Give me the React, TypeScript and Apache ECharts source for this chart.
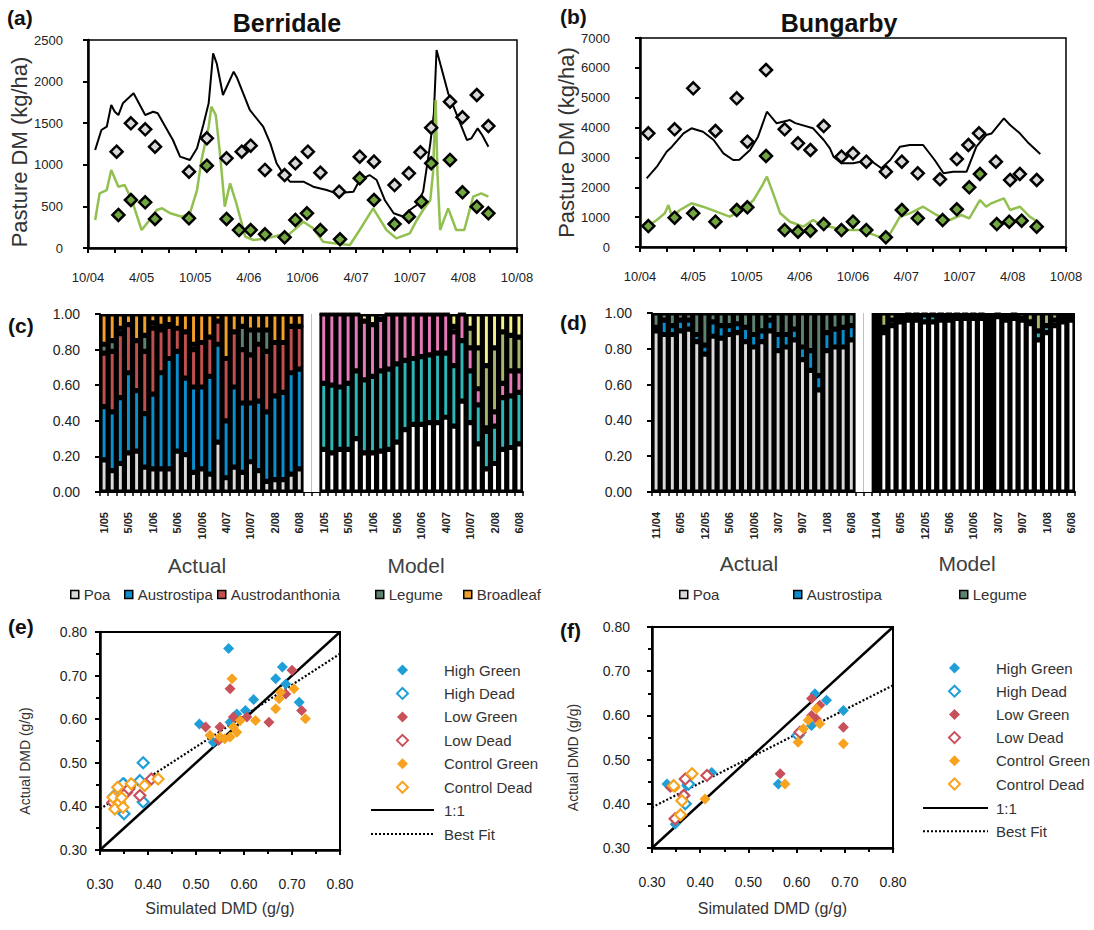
import React, { useEffect, useRef } from 'react';
import * as echarts from 'echarts';

const FONT = '"Liberation Sans", Arial, Helvetica, sans-serif';
const TXT = '#222';

// ---------------- (a) / (b) pasture DM time series (x = months since Oct 2004) ----------------
const timeTickLabels = ['10/04', '4/05', '10/05', '4/06', '10/06', '4/07', '10/07', '4/08', '10/08'];

const berrModelTotal: [number, number][] = [
  [0.8, 1178], [1.5, 1418], [2.1, 1458], [2.6, 1719], [3.0, 1638], [3.4, 1598], [3.9, 1739], [5.1, 1859],
  [6.4, 1598], [7.3, 1638], [7.8, 1620], [9.5, 1298], [10.3, 1098], [11.4, 1058], [12.2, 1198], [12.9, 1478],
  [13.5, 1739], [14.0, 2340], [14.4, 2220], [15.1, 1839], [16.3, 2119], [16.7, 2040], [18.1, 1659], [19.6, 1458],
  [20.4, 1258], [21.1, 1018], [21.8, 898], [22.6, 797], [24.1, 797], [25.2, 737], [26.7, 697], [27.8, 657],
  [29.7, 677], [30.4, 817], [31.5, 877], [32.3, 817], [33.2, 577], [34.2, 417], [35.3, 376], [36.0, 457],
  [36.8, 517], [37.5, 677], [38.3, 1258], [38.7, 1619], [39.0, 2380], [39.4, 2220], [40.3, 1859], [41.2, 1619],
  [42.4, 1298], [42.9, 1318], [43.6, 1438], [44.1, 1358], [44.8, 1218],
];
const berrModelGreen: [number, number][] = [
  [0.8, 337], [1.3, 657], [2.1, 697], [2.6, 938], [3.4, 737], [4.1, 757], [4.9, 577], [6.0, 216], [6.9, 337],
  [7.7, 457], [8.3, 477], [9.2, 417], [10.5, 376], [11.4, 417], [12.2, 697], [12.7, 1058], [13.5, 1458],
  [13.8, 1699], [14.3, 1598], [14.8, 1098], [15.3, 497], [15.9, 777], [16.6, 537], [17.6, 136], [18.5, 96],
  [20.0, 116], [21.5, 156], [22.2, 136], [24.1, 316], [25.2, 237], [26.3, 76], [27.3, 60], [29.3, 36],
  [30.4, 216], [31.9, 477], [33.4, 216], [34.5, 116], [36.0, 176], [36.8, 337], [37.5, 457], [38.3, 577],
  [38.6, 900], [38.9, 1779], [39.1, 898], [39.4, 216], [40.3, 477], [41.2, 216], [42.1, 216], [43.1, 617],
  [44.0, 657], [44.8, 617],
];
const berrActualTotal: [number, number][] = [
  [3.2, 1158], [4.8, 1499], [6.4, 1427], [7.5, 1218], [11.3, 917], [13.3, 1318], [15.5, 1078], [17.2, 1158],
  [18.2, 1230], [19.8, 938], [22.0, 877], [23.2, 1018], [24.6, 1158], [26.0, 905], [28.1, 677], [30.4, 1098],
  [32.0, 1038], [34.3, 757], [35.9, 898], [37.2, 1150], [38.4, 1446], [40.5, 1758], [41.9, 1571], [43.5, 1839],
  [44.8, 1466],
];
const berrActualGreen: [number, number][] = [
  [3.4, 397], [4.8, 577], [6.4, 549], [7.5, 349], [11.3, 357], [13.3, 989], [15.5, 349], [16.9, 216],
  [18.2, 216], [19.8, 165], [22.0, 128], [23.2, 337], [24.5, 417], [26.0, 216], [28.2, 105], [30.4, 838],
  [32.0, 577], [34.3, 288], [35.9, 376], [37.3, 557], [38.4, 1018], [40.5, 1058], [41.9, 669], [43.5, 496],
  [44.8, 417],
];

const bungModelTotal: [number, number][] = [
  [0.75, 2300], [1.9, 2690], [3.0, 3192], [3.6, 3359], [4.9, 3808], [5.8, 3975], [7.1, 3861], [8.3, 3584],
  [9.4, 3138], [10.5, 2914], [11.2, 2920], [12.4, 3249], [13.3, 3694], [14.3, 4531], [15.4, 4143], [16.9, 4253],
  [17.5, 4150], [19.5, 3975], [20.7, 3584], [21.4, 3305], [21.8, 3024], [22.7, 2803], [24.0, 2803], [25.9, 2914],
  [27.2, 2636], [28.2, 2914], [29.3, 3359], [30.4, 3416], [31.9, 3416], [33.2, 2914], [34.2, 2468], [35.3, 2522],
  [36.8, 2522], [37.9, 3359], [39.0, 3751], [39.6, 3800], [41.0, 4310], [41.7, 4086], [42.8, 3808], [43.8, 3473],
  [45.1, 3114],
];
const bungModelGreen: [number, number][] = [
  [0.75, 680], [1.9, 904], [2.8, 1128], [3.2, 1406], [3.6, 1016], [4.5, 1239], [5.8, 1463], [7.1, 1350],
  [8.6, 1183], [10.1, 1016], [11.6, 1239], [12.8, 1574], [13.7, 2019], [14.3, 2355], [15.0, 1798], [15.8, 1128],
  [16.9, 847], [18.4, 680], [19.5, 904], [20.7, 680], [21.4, 680], [22.9, 569], [24.8, 569], [25.9, 458],
  [27.4, 290], [28.2, 458], [29.3, 1016], [30.4, 1128], [31.9, 1350], [33.4, 1072], [34.9, 904], [36.2, 1072],
  [37.1, 960], [38.3, 1574], [39.0, 1350], [39.5, 1450], [41.0, 1630], [41.7, 1239], [42.8, 1350], [43.9, 1016],
  [44.8, 847],
];
const bungActualTotal: [number, number][] = [
  [0.94, 3808], [3.9, 3942], [6.0, 5315], [8.5, 3885], [10.9, 4980], [12.1, 3527], [14.2, 5928], [16.3, 3942],
  [17.8, 3473], [19.2, 3249], [20.7, 4052], [22.7, 3024], [24.0, 3137], [25.5, 2857], [27.7, 2522], [29.5, 2857],
  [31.3, 2468], [33.8, 2267], [35.7, 2947], [37.0, 3416], [38.2, 3808], [40.1, 2857], [41.7, 2244], [42.8, 2445],
  [44.7, 2244],
];
const bungActualGreen: [number, number][] = [
  [0.94, 703], [3.9, 982], [6.0, 1128], [8.5, 847], [10.9, 1239], [12.1, 1329], [14.2, 3048], [16.3, 569],
  [17.8, 512], [19.2, 546], [20.7, 770], [22.7, 569], [24.0, 847], [25.5, 569], [27.7, 324], [29.5, 1239],
  [31.3, 961], [34.1, 904], [35.7, 1262], [37.1, 1999], [38.3, 2445], [40.2, 770], [41.6, 847], [43.0, 881],
  [44.7, 680],
];

// ---------------- (c) Berridale composition ----------------
const berrTickLabels = ['1/05', '5/05', '1/06', '5/06', '10/06', '4/07', '10/07', '2/08', '6/08'];
const cActPoa = [.18, .12, .16, .22, .23, .14, .13, .13, .13, .23, .21, .11, .13, .10, .28, .08, .14, .11, .17, .12, .06, .07, .07, .10, .13];
const cActStipa = [.30, .33, .37, .45, .34, .30, .42, .54, .62, .56, .43, .48, .46, .55, .55, .32, .45, .39, .33, .39, .39, .47, .49, .57, .56];
const cActDanth = [.30, .34, .36, .27, .28, .35, .37, .24, .18, .13, .26, .21, .25, .22, .13, .35, .31, .30, .27, .32, .34, .30, .28, .26, .24];
const cActLegume = [.05, .06, .03, 0, 0, .09, .03, .02, .01, 0, 0, .03, 0, 0, 0, 0, 0, .13, .14, .08, .12, 0, 0, 0, 0];
const cActBroad = [.17, .15, .08, .06, .15, .12, .05, .07, .06, .08, .10, .17, .16, .13, .04, .25, .10, .07, .09, .09, .09, .16, .16, .07, .07];
const cModPoa = [.24, .22, .24, .24, .30, .22, .22, .23, .24, .28, .35, .38, .38, .39, .39, .42, .37, .51, .39, .27, .13, .16, .24, .25, .27];
const cModStipa = [.37, .38, .35, .37, .38, .41, .43, .45, .45, .44, .39, .37, .38, .38, .39, .36, .34, .34, .29, .22, .21, .21, .29, .29, .29];
const cModDanth = [.39, .40, .41, .39, .32, .33, .29, .29, .31, .28, .26, .25, .24, .23, .22, .22, .19, .15, .13, .09, .02, .08, .08, .14, .12];
const cModLegume = [0, 0, 0, 0, 0, 0, 0, 0, 0, 0, 0, 0, 0, 0, 0, 0, .03, 0, .11, .23, .35, .36, .29, .20, .19];
const cModBroad = [0, 0, 0, 0, 0, .04, .06, .03, 0, 0, 0, 0, 0, 0, 0, 0, .07, 0, .08, .19, .29, .19, .10, .12, .13];

// ---------------- (d) Bungarby composition ----------------
const bungTickLabels = ['11/04', '6/05', '12/05', '5/06', '10/06', '3/07', '9/07', '1/08', '6/08'];
const dActPoa = [.90, .88, .88, .90, .91, .84, .77, .87, .86, .88, .89, .84, .81, .84, .90, .79, .81, .85, .74, .68, .57, .79, .81, .81, .85];
const dActStipa = [.02, .08, .05, .06, .05, .04, .05, .08, .07, .05, .05, .08, .07, .06, .06, .09, .07, .06, .07, .11, .08, .10, .10, .11, .08];
const dActLegume = [.08, .04, .07, .04, .04, .12, .18, .05, .07, .07, .06, .08, .12, .10, .04, .12, .12, .09, .19, .21, .35, .11, .09, .08, .07];
const dModPoa = [null, .89, .93, .95, .96, .96, .95, .95, .96, .96, .97, .97, .97, .97, null, .98, .96, .97, .96, .94, .85, .89, .93, .95, .96];
const dModStipa = [null, .03, .03, .03, .03, .03, .04, .04, .03, .03, .02, .02, .02, .02, null, .01, .02, .02, .01, .01, .05, .04, .03, .03, .02];
const dModLegume = [null, .08, .04, .02, .01, .01, .01, .01, .01, .01, .01, .01, .01, .01, null, .01, .02, .01, .03, .05, .10, .07, .04, .02, .02];

// ---------------- (e) / (f) DMD scatter ----------------
const eHighGreen = [[.568, .762], [.666, .693], [.680, .720], [.687, .681], [.715, .639], [.620, .645], [.603, .620], [.585, .612], [.507, .589], [.571, .593], [.536, .547], [.35, .455]];
const eHighDead = [[.39, .50], [.383, .459], [.39, .41], [.348, .452], [.35, .383], [.33, .425]];
const eLowGreen = [[.571, .670], [.70, .712], [.72, .62], [.652, .593], [.52, .582], [.55, .582], [.606, .605], [.578, .605], [.547, .551], [.687, .658]];
const eLowDead = [[.383, .425], [.407, .463], [.355, .432], [.327, .409], [.36, .44]];
const eControlGreen = [[.575, .693], [.676, .662], [.673, .647], [.666, .624], [.704, .67], [.728, .601], [.624, .597], [.592, .597], [.578, .582], [.571, .559], [.550, .559], [.529, .563], [.585, .57], [.56, .555]];
const eControlDead = [[.421, .463], [.393, .448], [.365, .452], [.337, .444], [.327, .421], [.341, .409], [.331, .394], [.348, .398], [.345, .42]];
const eBestFit = [[0.3, 0.394], [0.8, 0.75]];

const fHighGreen = [[.638, .649], [.662, .634], [.697, .611], [.631, .577], [.562, .445], [.331, .445], [.348, .354], [.372, .441], [.424, .471]];
const fHighDead = [[.376, .445], [.369, .40], [.603, .555]];
const fLowGreen = [[.631, .638], [.648, .623], [.631, .60], [.641, .592], [.697, .573], [.566, .468], [.338, .437]];
const fLowDead = [[.369, .456], [.414, .464], [.348, .366], [.366, .419], [.607, .562]];
const fControlGreen = [[.641, .615], [.624, .589], [.614, .570], [.648, .581], [.603, .539], [.697, .536], [.576, .445], [.410, .411], [.348, .437]];
const fControlDead = [[.383, .468], [.362, .407], [.359, .375], [.345, .441]];
const fBestFit = [[0.3, 0.392], [0.8, 0.668]];
const oneToOne = [[0.3, 0.3], [0.8, 0.8]];

// ---------------- helpers ----------------
const N_ACT = 25;
const N_GAP = 2;
const N_CAT = 52;
const catKeys = Array.from({ length: N_CAT }, (_, i) => 'k' + i);
const catLabels = (ticks: string[]) =>
  catKeys.map((_, i) => {
    if (i < N_ACT && i % 3 === 0) return ticks[i / 3];
    const j = i - N_ACT - N_GAP;
    if (j >= 0 && j % 3 === 0) return ticks[j / 3];
    return '';
  });
const actFull = (a: (number | null)[]) => [...a, ...Array(N_CAT - a.length).fill(null)];
const modFull = (a: (number | null)[]) => [...Array(N_ACT + N_GAP).fill(null), ...a];
const gapFull = catKeys.map((_, i) => (i >= N_ACT && i < N_ACT + N_GAP ? 1 : null));

const axisLineBlk = (w = 2) => ({ show: true, lineStyle: { color: '#000', width: w } });
const lbl = (extra: any = {}) => ({ color: TXT, fontFamily: FONT, fontSize: 13, ...extra });

function timeX(gridIndex: number) {
  return {
    type: 'value', gridIndex, min: 0, max: 48, interval: 3,
    axisLine: axisLineBlk(2.5),
    axisTick: { show: true, length: 5, lineStyle: { color: '#000', width: 2 } },
    axisLabel: lbl({ margin: 23, formatter: (v: number) => (v % 6 === 0 ? timeTickLabels[v / 6] : '') }),
    splitLine: { show: false },
  };
}
function dmY(gridIndex: number, max: number, interval: number, margin: number, shift: number) {
  return {
    type: 'value', gridIndex, min: 0, max, interval,
    name: 'Pasture DM (kg/ha)', nameLocation: 'middle', nameGap: 57, nameRotate: 90,
    nameTextStyle: { fontSize: 22, color: '#333', fontFamily: FONT, padding: [0, shift, 0, 0] },
    axisLine: axisLineBlk(2.5),
    axisTick: { show: true, length: 5, lineStyle: { color: '#000', width: 2 } },
    axisLabel: lbl({ margin, formatter: (v: number) => String(v) }),
    splitLine: { show: false },
  };
}
function catX(gridIndex: number, labels: string[]) {
  return {
    type: 'category', gridIndex, data: catKeys,
    axisLine: axisLineBlk(2),
    axisTick: { show: true, interval: 0, length: 4, lineStyle: { color: '#000', width: 1.5 } },
    axisLabel: { interval: 0, rotate: 90, margin: 20, fontSize: 11, fontWeight: 'bold', color: TXT, fontFamily: FONT,
      formatter: (_v: string, idx: number) => labels[idx] },
    splitLine: { show: false },
  };
}
function fracY(gridIndex: number) {
  return {
    type: 'value', gridIndex, min: 0, max: 1, interval: 0.2,
    axisLine: axisLineBlk(2),
    axisTick: { show: true, length: 5, lineStyle: { color: '#000', width: 2 } },
    axisLabel: lbl({ margin: 20, fontSize: 14, formatter: (v: number) => v.toFixed(2) }),
    splitLine: { show: false },
  };
}
function dmdAxis(gridIndex: number, isX: boolean, nameGap: number, margin: number) {
  return {
    type: 'value', gridIndex, min: 0.3, max: 0.8, interval: 0.1,
    name: isX ? 'Simulated DMD (g/g)' : 'Actual DMD (g/g)', nameLocation: 'middle', nameGap,
    nameRotate: isX ? 0 : 90,
    nameTextStyle: isX
      ? { fontSize: 16, color: '#333', fontFamily: FONT }
      : { fontSize: 14, color: '#333', fontFamily: FONT, padding: [0, 40, 0, 0] },
    axisLine: axisLineBlk(2.5),
    axisTick: { show: true, length: 5, lineStyle: { color: '#000', width: 2 } },
    minorTick: { show: true, splitNumber: 2, length: 4, lineStyle: { color: '#000', width: 2 } },
    axisLabel: lbl({ margin, fontSize: 14, formatter: (v: number) => v.toFixed(2) }),
    splitLine: { show: false },
  };
}

const C_POA = '#d9d9d9', C_STIPA = '#0a8fcc', C_DANTH = '#c0504d', C_LEG = '#5f8270', C_BROAD = '#f2a02a';
const M_POA = '#ffffff', M_STIPA = '#2db6b6', M_DANTH = '#e67ab8', M_LEG = '#a8b46c', M_BROAD = '#f5f08c';
const BLUE = '#1f9fd8', RED = '#c8505a', ORANGE = '#f8a31f';

function stackBar(name: string, grid: number, stack: string, data: any[], color: string) {
  return {
    type: 'bar', name, xAxisIndex: grid, yAxisIndex: grid, stack, data, barCategoryGap: '0%',
    itemStyle: { color, borderColor: '#000', borderWidth: 2.6 }, silent: true,
  };
}
function gapBar(grid: number, stack: string) {
  return {
    type: 'bar', name: 'gap' + grid, xAxisIndex: grid, yAxisIndex: grid, stack, data: gapFull, barCategoryGap: '0%',
    itemStyle: { color: '#fff', borderWidth: 0 }, silent: true,
  };
}
function tsLine(name: string, grid: number, data: any, color: string, width: number) {
  return { type: 'line', name, xAxisIndex: grid, yAxisIndex: grid, data, symbol: 'none', lineStyle: { color, width }, z: 2 };
}
function tsPts(name: string, grid: number, data: any, color: string) {
  return {
    type: 'scatter', name, xAxisIndex: grid, yAxisIndex: grid, data, symbol: 'diamond', symbolSize: 12,
    itemStyle: { color, borderColor: '#000', borderWidth: 2.5, opacity: 1 }, z: 5,
  };
}
function pts(name: string, grid: number, data: any, color: string, hollow: boolean) {
  return {
    type: 'scatter', name, xAxisIndex: grid, yAxisIndex: grid, data, symbol: 'diamond', symbolSize: 11,
    itemStyle: hollow ? { color: '#fff', borderColor: color, borderWidth: 2.2, opacity: 1 } : { color, opacity: 1 },
    z: 5,
  };
}
function refLine(name: string, grid: number, data: any, dotted: boolean) {
  return {
    type: 'line', name, xAxisIndex: grid, yAxisIndex: grid, data, symbol: 'none',
    itemStyle: { color: 'rgba(0,0,0,0)', borderWidth: 0 },
    lineStyle: dotted ? { color: '#000', width: 2.2, type: [2, 2] } : { color: '#000', width: 2.5 }, z: 3,
  };
}

const pointNames = ['High Green', 'High Dead', 'Low Green', 'Low Dead', 'Control Green', 'Control Dead'];
const lineNames = ['1:1', 'Best Fit'];

function barLegend(name: string, left: number, top: number) {
  return {
    data: [name], left, top, padding: 0, itemWidth: 8, itemHeight: 8, selectedMode: false, icon: 'rect',
    itemStyle: { borderColor: '#000', borderWidth: 1.5 },
    textStyle: { fontSize: 15, color: '#333', fontFamily: FONT },
  };
}
function keyLegend(names: string[], left: number, top: number, iw: number, ih: number, gap: number, pad: number) {
  return {
    data: names, left, top, orient: 'vertical', padding: 0, itemWidth: iw, itemHeight: ih, itemGap: gap,
    selectedMode: false,
    formatter: (n: string) => `{p|}${n}`,
    textStyle: { fontSize: 15, color: '#333', fontFamily: FONT, lineHeight: 16, rich: { p: { width: pad } } },
  };
}

function txt(text: string, x: number, y: number, size: number, bold: boolean, color = '#111', align = 'left') {
  return {
    type: 'text', x, y, silent: true,
    style: { text, fontSize: size, fontWeight: bold ? 'bold' : 'normal', fontFamily: FONT, fill: color, align, verticalAlign: 'middle' },
  };
}

function buildOption() {
  const cLabels = catLabels(berrTickLabels);
  const dLabels = catLabels(bungTickLabels);
  return {
    animation: false,
    backgroundColor: '#fff',
    grid: [
      { left: 88, top: 40, width: 429, height: 208, show: true, borderColor: '#000', borderWidth: 1.5 },
      { left: 640, top: 38, width: 426, height: 209, show: true, borderColor: '#000', borderWidth: 1.5 },
      { left: 100, top: 314, width: 423, height: 178, show: true, backgroundColor: '#000', borderWidth: 0 },
      { left: 652, top: 313, width: 423, height: 179, show: true, backgroundColor: '#000', borderWidth: 0 },
      { left: 100, top: 632, width: 240, height: 218, show: true, borderColor: '#000', borderWidth: 2 },
      { left: 652, top: 627, width: 241, height: 221, show: true, borderColor: '#000', borderWidth: 2 },
    ],
    xAxis: [
      timeX(0), timeX(1), catX(2, cLabels), catX(3, dLabels),
      dmdAxis(4, true, 50, 27), dmdAxis(5, true, 52, 27),
    ],
    yAxis: [
      dmY(0, 2500, 500, 25, 16), dmY(1, 7000, 1000, 30, 0), fracY(2), fracY(3),
      dmdAxis(4, false, 68, 13), dmdAxis(5, false, 72, 22),
    ],
    legend: [
      barLegend('Poa', 70, 587), barLegend('Austrostipa', 124, 587), barLegend('Austrodanthonia', 217, 587),
      barLegend('Legume', 375, 587), barLegend('Broadleaf', 463, 587),
      barLegend('Poa', 679, 587), barLegend('Austrostipa', 793, 587), barLegend('Legume', 959, 587),
      keyLegend(pointNames, 396, 662, 11, 11, 7.45, 31),
      keyLegend(lineNames, 370, 802, 63, 10, 8, 5),
      keyLegend(pointNames, 948, 660, 11, 11, 7.2, 31),
      keyLegend(lineNames, 922, 800, 65, 10, 7.3, 3),
    ],
    graphic: [
      txt('(a)', 7, 17, 21, true), txt('Berridale', 287, 23, 25, true, '#111', 'center'),
      txt('(b)', 560, 16, 21, true), txt('Bungarby', 839, 23, 25, true, '#111', 'center'),
      txt('(c)', 8, 325, 21, true), txt('(d)', 560, 322, 21, true),
      txt('(e)', 8, 626, 21, true), txt('(f)', 560, 630, 21, true),
      txt('Actual', 197, 565, 21, false, '#404040', 'center'), txt('Model', 416, 565, 21, false, '#404040', 'center'),
      txt('Actual', 749, 563, 21, false, '#404040', 'center'), txt('Model', 967, 563, 21, false, '#404040', 'center'),
    ],
    series: [
      // (a)
      tsLine('Berridale model total', 0, berrModelTotal, '#000', 2),
      tsLine('Berridale model green', 0, berrModelGreen, '#92c050', 2.5),
      tsPts('Berridale actual total', 0, berrActualTotal, '#d9d9d9'),
      tsPts('Berridale actual green', 0, berrActualGreen, '#72a640'),
      // (b)
      tsLine('Bungarby model total', 1, bungModelTotal, '#000', 2),
      tsLine('Bungarby model green', 1, bungModelGreen, '#92c050', 2.5),
      tsPts('Bungarby actual total', 1, bungActualTotal, '#d9d9d9'),
      tsPts('Bungarby actual green', 1, bungActualGreen, '#72a640'),
      // (c)
      gapBar(2, 'c'),
      stackBar('Poa', 2, 'c', actFull(cActPoa), C_POA),
      stackBar('Austrostipa', 2, 'c', actFull(cActStipa), C_STIPA),
      stackBar('Austrodanthonia', 2, 'c', actFull(cActDanth), C_DANTH),
      stackBar('Legume', 2, 'c', actFull(cActLegume), C_LEG),
      stackBar('Broadleaf', 2, 'c', actFull(cActBroad), C_BROAD),
      stackBar('Poa model', 2, 'c', modFull(cModPoa), M_POA),
      stackBar('Austrostipa model', 2, 'c', modFull(cModStipa), M_STIPA),
      stackBar('Austrodanthonia model', 2, 'c', modFull(cModDanth), M_DANTH),
      stackBar('Legume model', 2, 'c', modFull(cModLegume), M_LEG),
      stackBar('Broadleaf model', 2, 'c', modFull(cModBroad), M_BROAD),
      // (d)
      gapBar(3, 'd'),
      stackBar('Poa', 3, 'd', actFull(dActPoa), C_POA),
      stackBar('Austrostipa', 3, 'd', actFull(dActStipa), C_STIPA),
      stackBar('Legume', 3, 'd', actFull(dActLegume), C_LEG),
      stackBar('Poa model', 3, 'd', modFull(dModPoa), M_POA),
      stackBar('Austrostipa model', 3, 'd', modFull(dModStipa), M_STIPA),
      stackBar('Legume model', 3, 'd', modFull(dModLegume), M_LEG),
      // (e)
      refLine('1:1', 4, oneToOne, false),
      refLine('Best Fit', 4, eBestFit, true),
      pts('High Green', 4, eHighGreen, BLUE, false),
      pts('High Dead', 4, eHighDead, BLUE, true),
      pts('Low Green', 4, eLowGreen, RED, false),
      pts('Low Dead', 4, eLowDead, RED, true),
      pts('Control Green', 4, eControlGreen, ORANGE, false),
      pts('Control Dead', 4, eControlDead, ORANGE, true),
      // (f)
      refLine('1:1', 5, oneToOne, false),
      refLine('Best Fit', 5, fBestFit, true),
      pts('High Green', 5, fHighGreen, BLUE, false),
      pts('High Dead', 5, fHighDead, BLUE, true),
      pts('Low Green', 5, fLowGreen, RED, false),
      pts('Low Dead', 5, fLowDead, RED, true),
      pts('Control Green', 5, fControlGreen, ORANGE, false),
      pts('Control Dead', 5, fControlDead, ORANGE, true),
    ],
  };
}

export default function App() {
  const ref = useRef<HTMLDivElement>(null);
  useEffect(() => {
    document.body.style.margin = '0';
    const chart = echarts.init(ref.current!, null, { renderer: 'svg' });
    chart.setOption(buildOption() as any);
    return () => chart.dispose();
  }, []);
  return <div ref={ref} style={{ width: 1094, height: 930, background: '#fff' }} />;
}
